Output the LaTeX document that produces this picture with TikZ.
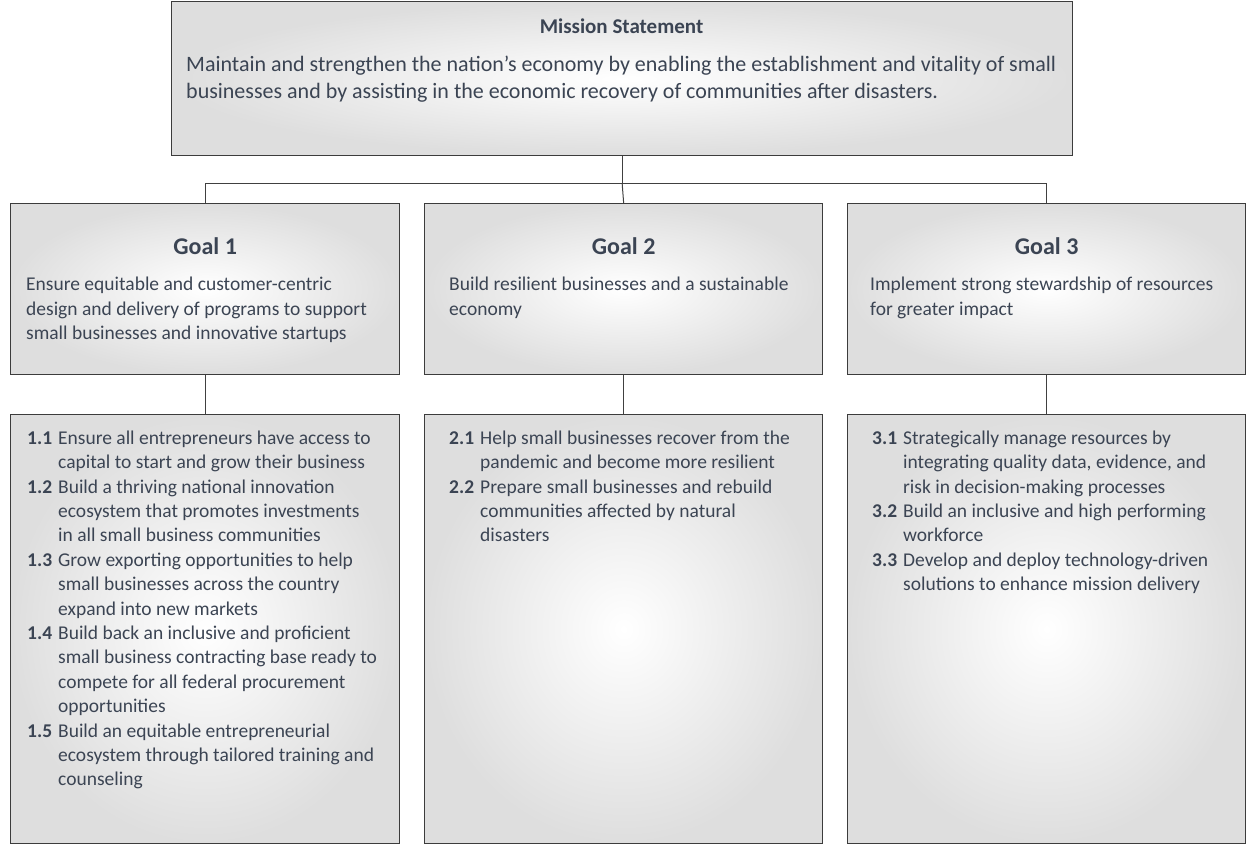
\documentclass[tikz,border=0pt]{standalone}
\usepackage{fontspec}
\setmainfont{Carlito}
\usetikzlibrary{positioning}
\definecolor{txtcol}{HTML}{3B4453}
\definecolor{edgecol}{HTML}{3C3C3C}
\definecolor{linecol}{HTML}{404040}
\definecolor{boxgray}{HTML}{DEDEDE}

\begin{document}
\begin{tikzpicture}[x=1pt, y=-1pt,
    box/.style={draw=edgecol, line width=1.3pt, inner color=white, outer color=boxgray, inner sep=0pt, anchor=north west},
    conn/.style={draw=linecol, line width=1pt},
    txt/.style={anchor=north west, inner sep=0pt, align=left, text=txtcol, font=\fontsize{19.5}{24.4}\selectfont},
    head/.style={inner sep=0pt, text=txtcol, font=\fontsize{24}{28}\selectfont\bfseries}]
    \useasboundingbox (0,0) rectangle (1246,845);

    % boxes
    \draw (171,1) node[box, minimum width=901pt, minimum height=154pt] (mission) {};
    \draw (10,203) node[box, minimum width=389pt, minimum height=171pt] (goal1) {};
    \draw (424,203) node[box, minimum width=398pt, minimum height=171pt] (goal2) {};
    \draw (847,203) node[box, minimum width=398pt, minimum height=171pt] (goal3) {};
    \draw (10,414) node[box, minimum width=389pt, minimum height=429pt] (obj1) {};
    \draw (424,414) node[box, minimum width=398pt, minimum height=429pt] (obj2) {};
    \draw (847,414) node[box, minimum width=398pt, minimum height=429pt] (obj3) {};

    % connectors
    \draw[conn] (mission.south) -- ++(0,27) coordinate (bus);
    \draw[conn] (goal1.north) |- (bus) -| (goal3.north);
    \draw[conn] (bus) -- (goal2.north);
    \draw[conn] (goal1.south) -- (obj1.north);
    \draw[conn] (goal2.south) -- (obj2.north);
    \draw[conn] (goal3.south) -- (obj3.north);

    % mission
    \node[head, font=\fontsize{21}{25}\selectfont\bfseries] (mtitle) at (621.5,26) {Mission Statement};
    \node[txt, font=\fontsize{22}{27}\selectfont] (mtext) at ([shift={(15,55)}]mission.north west)
        {Maintain and strengthen the nation’s economy by enabling the establishment and vitality of small\\
         businesses and by assisting in the economic recovery of communities after disasters.};

    % goals
    \node[head] (g1head) at ([shift={(0,43)}]goal1.north) {Goal 1};
    \node[head] (g2head) at ([shift={(0,43)}]goal2.north) {Goal 2};
    \node[head] (g3head) at ([shift={(0,43)}]goal3.north) {Goal 3};
    \node[txt] (g1text) at ([shift={(16,74)}]goal1.north west)
        {Ensure equitable and customer-centric\\
         design and delivery of programs to support\\
         small businesses and innovative startups};
    \node[txt] (g2text) at ([shift={(25,74)}]goal2.north west)
        {Build resilient businesses and a sustainable\\
         economy};
    \node[txt] (g3text) at ([shift={(23,74)}]goal3.north west)
        {Implement strong stewardship of resources\\
         for greater impact};

    % objectives
    \node[txt] (o1text) at ([shift={(17,13)}]obj1.north west)
        {\begin{tabular}{@{}l@{\hspace{6pt}}l@{}}
         \textbf{1.1} & Ensure all entrepreneurs have access to\\
                      & capital to start and grow their business\\
         \textbf{1.2} & Build a thriving national innovation\\
                      & ecosystem that promotes investments\\
                      & in all small business communities\\
         \textbf{1.3} & Grow exporting opportunities to help\\
                      & small businesses across the country\\
                      & expand into new markets\\
         \textbf{1.4} & Build back an inclusive and proficient\\
                      & small business contracting base ready to\\
                      & compete for all federal procurement\\
                      & opportunities\\
         \textbf{1.5} & Build an equitable entrepreneurial\\
                      & ecosystem through tailored training and\\
                      & counseling
         \end{tabular}};
    \node[txt] (o2text) at ([shift={(25,13)}]obj2.north west)
        {\begin{tabular}{@{}l@{\hspace{6pt}}l@{}}
         \textbf{2.1} & Help small businesses recover from the\\
                      & pandemic and become more resilient\\
         \textbf{2.2} & Prepare small businesses and rebuild\\
                      & communities affected by natural\\
                      & disasters
         \end{tabular}};
    \node[txt] (o3text) at ([shift={(25,13)}]obj3.north west)
        {\begin{tabular}{@{}l@{\hspace{6pt}}l@{}}
         \textbf{3.1} & Strategically manage resources by\\
                      & integrating quality data, evidence, and\\
                      & risk in decision-making processes\\
         \textbf{3.2} & Build an inclusive and high performing\\
                      & workforce\\
         \textbf{3.3} & Develop and deploy technology-driven\\
                      & solutions to enhance mission delivery
         \end{tabular}};
\end{tikzpicture}
\end{document}
